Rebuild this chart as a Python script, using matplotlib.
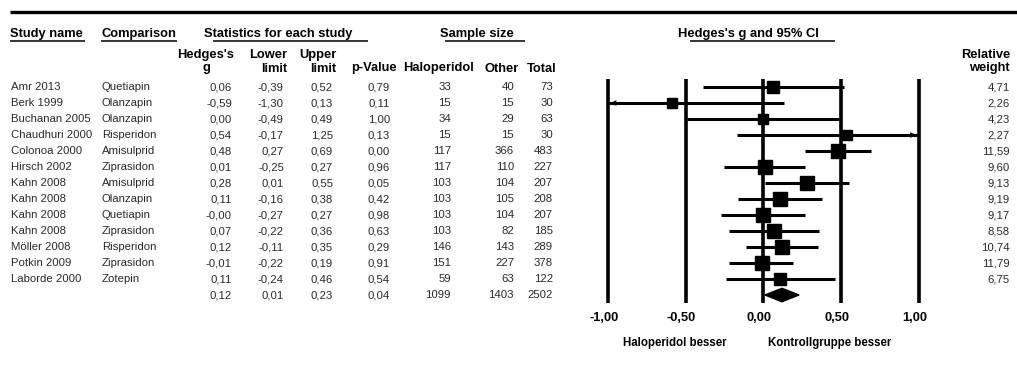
import matplotlib
matplotlib.use("Agg")
import matplotlib.pyplot as plt

plt.rcParams["font.family"] = ["Liberation Sans", "DejaVu Sans"]

# ---- data -------------------------------------------------------------
studies = ["Amr 2013", "Berk 1999", "Buchanan 2005", "Chaudhuri 2000",
           "Colonoa 2000", "Hirsch 2002", "Kahn 2008", "Kahn 2008",
           "Kahn 2008", "Kahn 2008", "Möller 2008", "Potkin 2009",
           "Laborde 2000"]
comparisons = ["Quetiapin", "Olanzapin", "Olanzapin", "Risperidon",
               "Amisulprid", "Ziprasidon", "Amisulprid", "Olanzapin",
               "Quetiapin", "Ziprasidon", "Risperidon", "Ziprasidon",
               "Zotepin"]
hedges_g = [0.06, -0.59, 0.00, 0.54, 0.48, 0.01, 0.28, 0.11, -0.00, 0.07,
            0.12, -0.01, 0.11]
lower = [-0.39, -1.30, -0.49, -0.17, 0.27, -0.25, 0.01, -0.16, -0.27, -0.22,
         -0.11, -0.22, -0.24]
upper = [0.52, 0.13, 0.49, 1.25, 0.69, 0.27, 0.55, 0.38, 0.27, 0.36, 0.35,
         0.19, 0.46]
p_values = [0.79, 0.11, 1.00, 0.13, 0.00, 0.96, 0.05, 0.42, 0.98, 0.63,
            0.29, 0.91, 0.54]
n_haloperidol = [33, 15, 34, 15, 117, 117, 103, 103, 103, 103, 146, 151, 59]
n_other = [40, 15, 29, 15, 366, 110, 104, 105, 104, 82, 143, 227, 63]
n_total = [73, 30, 63, 30, 483, 227, 207, 208, 207, 185, 289, 378, 122]
rel_weight = [4.71, 2.26, 4.23, 2.27, 11.59, 9.60, 9.13, 9.19, 9.17, 8.58,
              10.74, 11.79, 6.75]

pooled_g, pooled_lo, pooled_hi, pooled_p = 0.12, 0.01, 0.23, 0.04
pooled_n = [1099, 1403, 2502]

axis_ticks = [-1.0, -0.5, 0.0, 0.5, 1.0]


def de(v):
    return f"{v:.2f}".replace(".", ",")


# ---- layout -----------------------------------------------------------
W, H = 1017, 365
ROW0, ROWH = 87, 16.0
fig = plt.figure(figsize=(W / 100, H / 100), dpi=100)

tab = fig.add_axes([0, 0, 1, 1])
tab.set_xlim(0, W)
tab.set_ylim(H, 0)
tab.axis("off")

DATA_FS = 8.2
HEAD_FS = 9.3
DATA_COL = "#2a2a2a"

# top rule
tab.plot([10, W], [12, 12], color="black", lw=2.4, solid_capstyle="butt")

# group headers with underlines
groups = [("Study name", 10, 10, 85), ("Comparison", 101, 101, 177),
          ("Statistics for each study", 204, 213, 368),
          ("Sample size", 440, 445, 525),
          ("Hedges's g and 95% CI", 678, 690, 835)]
for label, tx, u0, u1 in groups:
    tab.text(tx, 34.5, label, ha="left", va="center", fontsize=HEAD_FS,
             fontweight="bold", color="black")
    tab.plot([u0, u1], [40.5, 40.5], color="black", lw=1.1,
             solid_capstyle="butt")

# column headers
col_heads = [("Hedges's\ng", 206, "center"), ("Lower\nlimit", 287, "right"),
             ("Upper\nlimit", 336, "right"), ("p-Value", 397, "right"),
             ("Haloperidol", 439, "center"), ("Other", 502, "center"),
             ("Total", 542, "center"), ("Relative\nweight", 1010, "right")]
for label, x, ha in col_heads:
    if "\n" in label:
        top, bot = label.split("\n")
        tab.text(x, 55, top, ha=ha, va="center", fontsize=HEAD_FS,
                 fontweight="bold", color="black")
        tab.text(x, 68.5, bot, ha=ha, va="center", fontsize=HEAD_FS,
                 fontweight="bold", color="black")
    else:
        tab.text(x, 68.5, label, ha=ha, va="center", fontsize=HEAD_FS,
                 fontweight="bold", color="black")

# study rows
num_cols = [232, 284, 333, 390, 451, 514, 553]
for i in range(len(studies)):
    y = ROW0 + i * ROWH
    tab.text(11, y, studies[i], ha="left", va="center", fontsize=DATA_FS,
             color=DATA_COL)
    tab.text(102, y, comparisons[i], ha="left", va="center",
             fontsize=DATA_FS, color=DATA_COL)
    vals = [de(hedges_g[i]), de(lower[i]), de(upper[i]), de(p_values[i]),
            str(n_haloperidol[i]), str(n_other[i]), str(n_total[i])]
    for x, v in zip(num_cols, vals):
        tab.text(x, y, v, ha="right", va="center", fontsize=DATA_FS,
                 color=DATA_COL)
    tab.text(1010, y, de(rel_weight[i]), ha="right", va="center",
             fontsize=DATA_FS, color=DATA_COL)

# pooled row
y = ROW0 + len(studies) * ROWH
vals = [de(pooled_g), de(pooled_lo), de(pooled_hi), de(pooled_p)] + \
       [str(n) for n in pooled_n]
for x, v in zip(num_cols, vals):
    tab.text(x, y, v, ha="right", va="center", fontsize=DATA_FS,
             color=DATA_COL)

# ---- forest plot ------------------------------------------------------
PX_PER_UNIT, ZERO_PX = 155.5, 763.3
XL = 1.05
left_px = ZERO_PX - XL * PX_PER_UNIT
top_px, bot_px = 79, 303
ax = fig.add_axes([left_px / W, (H - bot_px) / H,
                   2 * XL * PX_PER_UNIT / W, (bot_px - top_px) / H])
ax.set_xlim(-XL, XL)
ax.set_ylim((bot_px - ROW0) / ROWH, (top_px - ROW0) / ROWH)
ax.axis("off")

label_shift = -4 / PX_PER_UNIT
for t in axis_ticks:
    ax.axvline(t, color="black", lw=2.6, zorder=1)
    ax.text(t + label_shift, (318 - ROW0) / ROWH, de(t), ha="center",
            va="center", fontsize=HEAD_FS, fontweight="bold", clip_on=False)

for i in range(len(studies)):
    lo = max(lower[i], -1.0)
    hi = min(upper[i], 1.0)
    ax.plot([lo, hi], [i, i], color="black", lw=2.2, zorder=2,
            solid_capstyle="butt")
    if lower[i] < -1.0:
        ax.annotate("", xy=(-1.0, i), xytext=(-0.95, i),
                    arrowprops=dict(arrowstyle="->", lw=1.0,
                                    mutation_scale=7, color="black"))
    if upper[i] > 1.0:
        ax.annotate("", xy=(1.0, i), xytext=(0.95, i),
                    arrowprops=dict(arrowstyle="->", lw=1.0,
                                    mutation_scale=7, color="black"))
    side_px = 5 + 2.8 * rel_weight[i] ** 0.5
    ax.plot(hedges_g[i], i, marker="s", color="black",
            markersize=side_px * 0.72, zorder=3)

# pooled diamond
yd = len(studies)
hh = 0.42
ax.fill([pooled_lo, pooled_g, pooled_hi, pooled_g],
        [yd, yd - hh, yd, yd + hh], color="black", zorder=3)

ax.text((675 - ZERO_PX) / PX_PER_UNIT, (343 - ROW0) / ROWH,
        "Haloperidol besser", ha="center", va="center", fontsize=8.3,
        fontweight="bold", clip_on=False)
ax.text((830 - ZERO_PX) / PX_PER_UNIT, (343 - ROW0) / ROWH,
        "Kontrollgruppe besser", ha="center", va="center", fontsize=8.3,
        fontweight="bold", clip_on=False)

fig.savefig("out.png", dpi=100, facecolor="white")
